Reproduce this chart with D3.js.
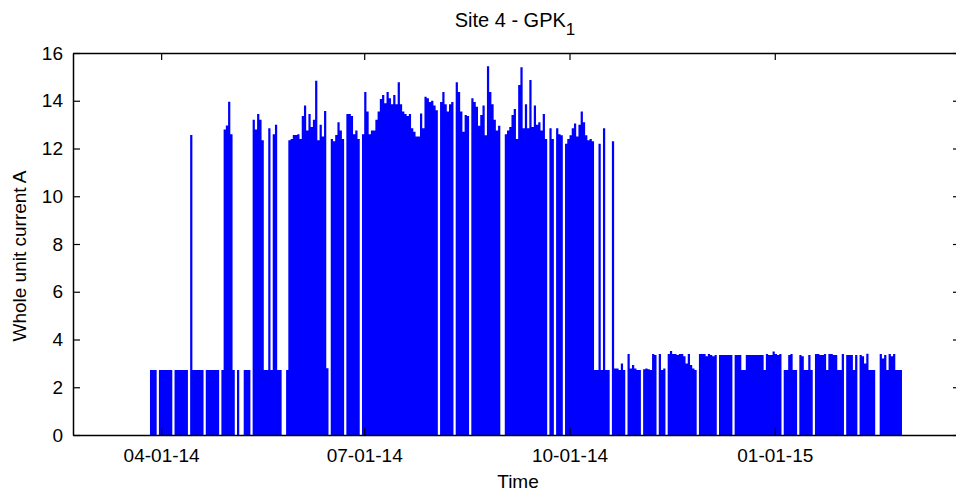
<!DOCTYPE html>
<html>
<head>
<meta charset="utf-8">
<script src="https://cdn.jsdelivr.net/npm/d3@7"></script>
<style>
  body { margin: 0; background: #fff; }
  svg { display: block; }
  text { font-family: "Liberation Sans", Arial, Helvetica, sans-serif; fill: #000; }
</style>
</head>
<body>
<svg id="chart" width="956" height="492"></svg>
<script>
// Daily peak of the whole-unit current (A), one value per day from seriesStart.
const seriesStart = "2014-03-27";
const dailyPeak = [
  2.72, 2.72, 2.72, 0, 2.72, 2.72, 2.72, 2.72, 2.72, 2.72,
  0, 2.72, 2.72, 2.72, 2.72, 2.72, 2.72, 0, 12.57, 2.72,
  2.72, 2.72, 2.72, 2.72, 0, 2.72, 2.72, 2.72, 2.72, 2.72,
  2.72, 0, 2.72, 12.8, 12.96, 13.96, 12.6, 2.72, 0, 2.72,
  0, 0, 2.72, 2.72, 2.72, 0, 13.2, 12.8, 13.45, 13.2,
  12.35, 2.72, 2.72, 12.85, 2.72, 12.6, 13.0, 2.72, 2.72, 0,
  0, 2.72, 12.35, 12.4, 12.57, 12.57, 12.6, 12.4, 13.36, 13.8,
  12.75, 13.45, 12.9, 13.2, 14.84, 12.35, 13.0, 12.5, 13.57, 2.8,
  0, 12.4, 12.3, 12.57, 13.1, 12.75, 12.4, 0, 13.45, 13.45,
  13.36, 12.6, 12.75, 12.4, 0, 12.6, 14.37, 13.55, 12.6, 12.75,
  12.75, 13.2, 13.55, 14.07, 14.24, 13.9, 14.37, 14.1, 13.85, 14.24,
  13.85, 14.77, 13.85, 13.55, 13.45, 13.36, 13.45, 12.85, 12.7, 12.5,
  12.5, 13.47, 12.85, 14.17, 14.1, 13.95, 14.0, 13.8, 13.6, 0,
  13.95, 14.37, 13.85, 13.55, 13.85, 13.95, 0, 14.77, 14.37, 13.55,
  12.7, 13.4, 13.36, 0, 14.1, 13.95, 13.75, 12.95, 13.4, 13.8,
  12.55, 15.45, 14.37, 13.85, 13.2, 12.75, 12.95, 0, 0, 12.6,
  12.75, 12.9, 13.4, 13.65, 12.4, 14.66, 15.4, 12.85, 13.85, 12.85,
  14.87, 12.9, 13.8, 13.0, 13.1, 12.75, 13.45, 12.4, 0, 12.85,
  12.4, 0, 12.85, 12.6, 12.55, 0, 12.2, 12.4, 12.55, 12.85,
  13.05, 12.5, 13.0, 13.55, 13.1, 12.55, 12.35, 12.4, 12.3, 2.72,
  2.72, 12.2, 2.72, 12.85, 2.72, 2.72, 0, 12.3, 2.79, 2.79,
  2.72, 3.0, 2.72, 0, 3.39, 2.79, 2.93, 2.79, 2.72, 2.72,
  0, 2.75, 2.79, 2.75, 2.72, 3.39, 3.35, 0, 3.39, 2.72,
  2.79, 0, 3.39, 3.52, 3.39, 3.39, 3.35, 3.39, 3.39, 3.3,
  3.0, 3.39, 2.93, 2.79, 2.72, 0, 3.39, 3.39, 3.39, 3.3,
  3.39, 3.35, 3.3, 3.35, 0, 3.35, 3.35, 3.35, 3.35, 3.35,
  3.35, 0, 3.35, 3.35, 3.35, 2.72, 2.72, 3.35, 3.35, 3.35,
  3.35, 3.35, 3.35, 3.35, 3.35, 2.72, 3.39, 3.35, 3.35, 3.5,
  3.39, 3.35, 3.39, 0, 2.72, 2.72, 3.35, 3.39, 2.72, 2.72,
  0, 3.35, 3.3, 2.72, 2.72, 3.35, 2.72, 0, 3.39, 3.39,
  3.35, 3.35, 3.39, 2.72, 3.39, 3.39, 3.35, 3.35, 2.72, 2.72,
  3.39, 0, 3.35, 3.35, 3.35, 2.72, 3.35, 0, 3.35, 3.3,
  3.0, 3.4, 2.72, 2.72, 2.72, 0, 0, 3.39, 3.2, 3.35,
  2.72, 3.39, 3.3, 3.39, 2.72, 2.72, 2.72
];

const xDomain = ["2014-02-20T12:00:00Z", "2015-03-25T00:00:00Z"];
const yDomain = [0, 16];
const yTicks = [0, 2, 4, 6, 8, 10, 12, 14, 16];
const xTickDates = ["2014-04-01", "2014-07-01", "2014-10-01", "2015-01-01"];
const xTickLabels = ["04-01-14", "07-01-14", "10-01-14", "01-01-15"];

const titleText = "Site 4 - GPK";
const titleSub = "1";
const xLabel = "Time";
const yLabel = "Whole unit current A";

// Axes box (right edge runs just past the figure edge)
const plot = { left: 73, right: 960, top: 53, bottom: 435 };

const svg = d3.select("#chart");

const x = d3.scaleUtc()
  .domain(xDomain.map(d => new Date(d)))
  .range([plot.left, plot.right]);

const y = d3.scaleLinear()
  .domain(yDomain)
  .range([plot.bottom, plot.top]);

// Build the daily series; a closing point ends the last day's step.
const DAY = 864e5;
const t0 = Date.parse(seriesStart + "T00:00:00Z");
const points = dailyPeak.map((v, i) => ({ t: new Date(t0 + i * DAY), v }));
points.push({ t: new Date(t0 + dailyPeak.length * DAY), v: dailyPeak[dailyPeak.length - 1] });

const trace = d3.area()
  .curve(d3.curveStepAfter)
  .x(d => x(d.t))
  .y0(y(0))
  .y1(d => y(d.v));

svg.append("path")
  .datum(points)
  .attr("d", trace)
  .attr("fill", "#0000ff")
  .attr("stroke", "none");

// Axes: ticks point inward, labels outside
const fontSize = 19;
const tickLen = 7;

const axisB = d3.axisBottom(x)
  .tickValues(xTickDates.map(d => new Date(d + "T00:00:00Z")))
  .tickFormat((d, i) => xTickLabels[i])
  .tickSizeInner(-tickLen)
  .tickSizeOuter(0)
  .tickPadding(14);

const axisT = d3.axisTop(x)
  .tickValues(xTickDates.map(d => new Date(d + "T00:00:00Z")))
  .tickFormat("")
  .tickSizeInner(-tickLen)
  .tickSizeOuter(0);

const axisL = d3.axisLeft(y)
  .tickValues(yTicks)
  .tickFormat(d3.format("d"))
  .tickSizeInner(-tickLen)
  .tickSizeOuter(0)
  .tickPadding(10);

const axisR = d3.axisRight(y)
  .tickValues(yTicks)
  .tickFormat("")
  .tickSizeInner(-tickLen)
  .tickSizeOuter(0);

function styleAxis(g) {
  g.select(".domain").attr("stroke", "#000").attr("stroke-width", 1.5);
  g.selectAll(".tick line").attr("stroke", "#000").attr("stroke-width", 1.2);
  g.selectAll(".tick text")
    .attr("fill", "#000")
    .style("font-size", fontSize + "px")
    .style("font-family", '"Liberation Sans", Arial, sans-serif');
}

svg.append("g").attr("transform", `translate(0,${plot.bottom})`).call(axisB).call(styleAxis);
svg.append("g").attr("transform", `translate(0,${plot.top})`).call(axisT).call(styleAxis);
svg.append("g").attr("transform", `translate(${plot.left},0)`).call(axisL).call(styleAxis);
svg.append("g").attr("transform", `translate(${plot.right},0)`).call(axisR).call(styleAxis);

// Title with subscript
const title = svg.append("text")
  .attr("x", 515)
  .attr("y", 27)
  .attr("text-anchor", "middle")
  .style("font-size", "20px");
title.append("tspan").text(titleText);
title.append("tspan").attr("dy", 8).style("font-size", "17px").text(titleSub);

// Axis titles
svg.append("text")
  .attr("x", 518)
  .attr("y", 488)
  .attr("text-anchor", "middle")
  .style("font-size", fontSize + "px")
  .text(xLabel);

svg.append("text")
  .attr("transform", `translate(26,${(plot.top + plot.bottom) / 2 + 12}) rotate(-90)`)
  .attr("text-anchor", "middle")
  .style("font-size", fontSize + "px")
  .text(yLabel);
</script>
</body>
</html>
